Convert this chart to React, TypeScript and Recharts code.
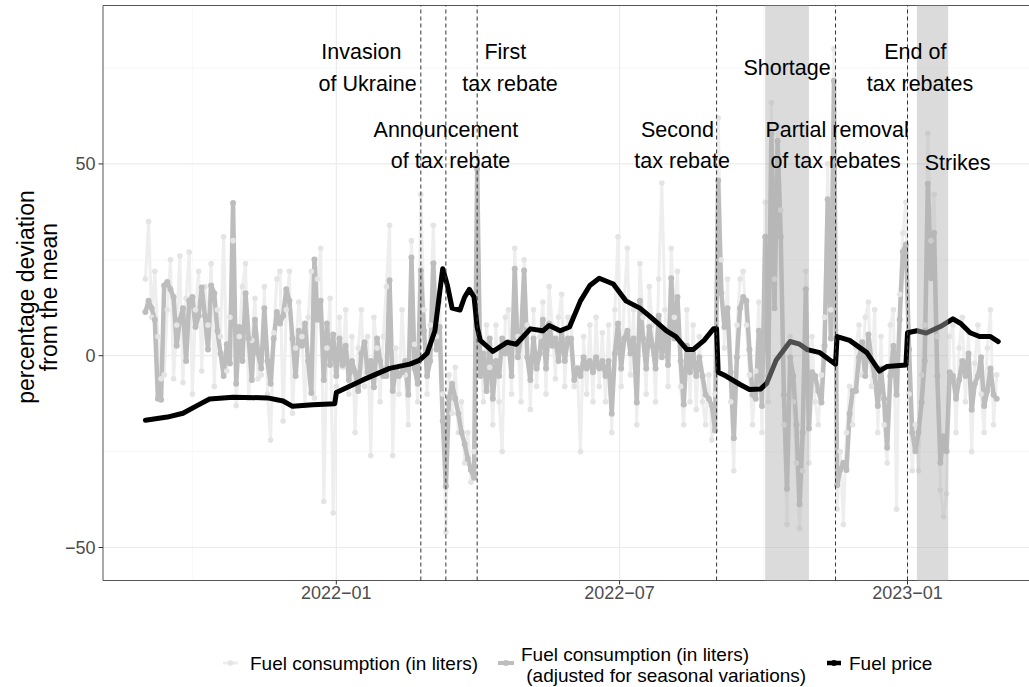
import React from "react";
import {
  LineChart,
  Line,
  XAxis,
  YAxis,
  CartesianGrid,
  ReferenceLine,
  ReferenceArea,
  ReferenceDot,
} from "recharts";

// ---------- data ----------
const seriesStart = "2021-09-01";
const stepDays = 2;

const adjustedValues = [
  11.4, 14.3, 12.4, 9.4, -11.2, -11.5, 18.3, 19.2, 17.3, 15.3,
  2.6, 9.4, 12.4, -1.4, 14.3, 15.3, 7.5, 10.4, 17.8, 10.4,
  1.6, 18.3, 16.3, 6.5, 0.6, -5.3, 3.0, -2.0, 39.8, -7.3,
  7.5, -1.4, 16.3, 4.5, -6.3, 9.4, 0.6, -3.3, 12.4, -1.4,
  -7.3, 4.5, 11.4, 8.4, 10.4, 17.3, 14.3, 4.5, -5.3, 6.5,
  2.6, 8.4, -1.4, -9.7, 25.1, 9.4, 14.3, -6.3, 8.4, -2.4, 5.5,
  -5.3, 4.5, -2.4, 2.6, -6.3, -1.4, -4.3, -9.2, 0.6, 3.5,
  -4.3, -1.4, -8.2, 4.5, -1.4, -5.3, -5.3, 19.7, -9.2, -3.3,
  -5.3, -4.3, -1.4, -10.2, 25.6, -3.3, -7.3, 22.2, 6.5, -5.3,
  -1.4, 24.1, 1.6, 7.5, -17.0, -34.0, -11.2, -7.3, -11.2, -15.1,
  -20.0, -23.0, -26.9, -29.8, -31.8, 48.7, -5.3, 0.6, -9.2, 4.5,
  -11.2, -1.4, -5.3, 4.5, 0.6, 3.5, -5.3, 22.7, -0.4, 4.5,
  22.2, -0.4, -6.3, 4.5, -3.3, 0.6, 9.4, -3.3, 8.4, 2.6,
  4.5, -1.4, 6.5, -1.4, 4.5,
  4.5, -6.3, -3.3, -5.3, -0.4, -3.3, -1.4, -4.3, -0.4, -3.3,
  -1.4, -5.3, -1.4, -15.1, 0.6, 8.4, -3.3, 4.5, 6.5, 0.6,
  4.5, -12.2, 14.3, 4.5, -3.3, 7.5, 2.6, -3.3, 10.4, -0.4,
  6.5, -2.4, 20.2, 4.5, 15.3, -1.4, -12.7, 2.6, -4.3, 0.6,
  -5.3, -0.4, -5.3, -10.2, -11.2, -13.0, -19.5, 45.7, 16.3, 7.5,
  12.4, -4.3, -21.5, -0.4, 12.4, 15.3, 14.3, 1.6, -10.2, -11.2,
  6.5, -13.1, 31.0, -5.3, 58.0, 12.4, 56.0, 31.0, -10.2, -34.7,
  -0.4, -5.3, -18.0, -38.7,
  -20.0, 17.3, -19.0, -4.3, -5.3, -9.2, -12.2, 2.6, 40.8, 4.5,
  71.7, -33.8, -29.8, -27.9, -29.8, -15.1, -9.2, -9.2, -0.4, 3.5,
  -5.3, 5.5, -1.4, -5.3, -13.1, -3.3, -11.2, -24.0, -5.3, 2.6,
  -10.2, 9.4, 27.1, 29.0, 1.6, -20.0, -24.9, -20.0, -12.2, -1.4,
  44.8, 20.2, 32.0, -5.3, -27.9, -21.0, -24.9, -4.3, -5.3, -11.2,
  -6.3, -1.4, -5.3, 0.6, -14.1, -7.3, -5.3, -0.4, -13.1, -9.2,
  -3.3, -10.2, -11.2,
];

const rawValues = [
  20, 35, 10, 22, 5, -6, -5, 12, 25, -6,
  8, 26, -7, 15, 27, -10, 12, 22, -4, 18,
  8, 24, -8, 12, 5, 31, -4, 10, 30, -13,
  5, 18, 24, -11, 4, 15, -6, -5, 18, -10,
  -22, 6, 20, 22, -17, 12, 22, -15, 2, 14,
  5, -13, 10, 22, -11, 20, 28, -38, 2, 15, -41,
  -8, 10, -3, 12, -10, 5, -20, 2, 12, -8,
  5, -26, 10, 2, -12, 5, 18, 34, -26, 2,
  -10, 12, -5, -18, 30, 3, -12, 42, 12, -10,
  8, 34, 5, 14, -10, -46, -5, -15, -3, -20,
  -12, -28, -20, -33, -25, 52, 5, -12, 8, -3,
  -18, 8, -12, -25, 10, 12, -10, 28, 5, -12,
  25, 8, -14, 12, -8, 5, 14, -10, 18, 8,
  -6, 10, 16, -8, 10,
  10, -8, -3, -25, 5, -10, 8, -12, 10, -8,
  6, -12, 8, -20, 12, 31, -8, 15, 28, -5,
  12, -18, 24, 10, -10, 18, 8, -12, 20, 45,
  12, -8, 28, 10, 22, -8, -18, 12, -12, 8,
  -14, 5, -12, -18, -5, -22, -10, 62, 25, 2,
  20, -12, -30, 8, 20, 22, 8, -5, -18, -4,
  14, -20, 40, -12, 66, 20, 60, 38, -18, -44,
  5, -12, -28, -45,
  -30, 22, -28, 5, -12, -18, -5, 10, 50, 12,
  80, -40, -25, -44, -20, -8, -18, 2, 8, -5,
  10, 14, -8, 12, -20, 5, -18, -28, 8, 12,
  -40, 16, 32, 40, -10, -30, -18, -30, -5, 8,
  58, 30, 42, 5, -35, -42, -36, 5, 8, -20,
  2, 10, -12, 6, -25, -2, 8, -10, -20, 2,
  12, -18, -5,
];

const priceDates = [
  "2021-09-01", "2021-09-15", "2021-09-25", "2021-10-04", "2021-10-12", "2021-10-27",
  "2021-11-18", "2021-11-28", "2021-12-04", "2021-12-17", "2021-12-31",
  "2022-01-01", "2022-01-18", "2022-02-04", "2022-02-17", "2022-02-23", "2022-02-28",
  "2022-03-05", "2022-03-08", "2022-03-10", "2022-03-13", "2022-03-16", "2022-03-21",
  "2022-03-24", "2022-03-27", "2022-03-30", "2022-04-01", "2022-04-03", "2022-04-11",
  "2022-04-20", "2022-04-26", "2022-05-05", "2022-05-13", "2022-05-17", "2022-05-24",
  "2022-05-30", "2022-06-06", "2022-06-12", "2022-06-18", "2022-06-27", "2022-07-05",
  "2022-07-14", "2022-07-20", "2022-07-31", "2022-08-06", "2022-08-13", "2022-08-17",
  "2022-08-24", "2022-08-30", "2022-09-01", "2022-09-02", "2022-09-07", "2022-09-16",
  "2022-09-22", "2022-09-29", "2022-10-03", "2022-10-09", "2022-10-18", "2022-10-24",
  "2022-10-29", "2022-11-06", "2022-11-16", "2022-11-17", "2022-11-25", "2022-12-06",
  "2022-12-14", "2022-12-19", "2022-12-31", "2023-01-01", "2023-01-07", "2023-01-13",
  "2023-01-22", "2023-01-30", "2023-02-04", "2023-02-10", "2023-02-16", "2023-02-23",
  "2023-02-28",
];
const priceValues = [
  -16.8, -16.0, -15.0, -13.0, -11.3, -10.8,
  -11.0, -11.8, -13.2, -12.8, -12.5,
  -9.6, -6.3, -3.3, -2.2, -1.2, 0.6,
  6.5, 16.3, 22.7, 18.3, 12.4, 11.9,
  15.3, 17.3, 15.3, 7.5, 4.0, 1.1,
  3.5, 3.0, 7.0, 6.5, 7.9, 6.5,
  7.5, 14.3, 18.3, 20.2, 18.7, 14.3,
  12.4, 10.4, 6.5, 5.0, 1.6, 1.6,
  4.0, 7.0, 7.0, -4.3, -5.3, -7.5,
  -8.8, -8.7, -7.2, -1.2, 3.7, 3.0,
  1.6, 0.8, -2.2, 5.0, 4.0, 0.8,
  -4.0, -2.8, -2.4, 6.0, 6.5, 5.9,
  7.6, 9.6, 8.4, 6.0, 5.0, 5.0,
  3.7,
];

const xTickDates = ["2022-01-01", "2022-07-01", "2023-01-01"];
const xTickLabels = ["2022\u221201", "2022\u221207", "2023\u221201"];
const xMinorDates = ["2021-10-01", "2022-04-01", "2022-10-01"];
const yTickValues = [-50, 0, 50];
const yTickLabels = ["\u221250", "0", "50"];
const yMinorValues = [-25, 25, 75];

const eventDates = ["2022-02-24", "2022-03-12", "2022-04-01", "2022-09-01", "2022-11-16", "2023-01-01"];
const periodStarts = ["2022-10-02", "2023-01-07"];
const periodEnds = ["2022-10-30", "2023-01-27"];

const annotationTexts = [
  "Invasion", "of Ukraine", "First", "tax rebate", "Announcement", "of tax rebate",
  "Second", "tax rebate", "Shortage", "Partial removal", "of tax rebates",
  "End of", "tax rebates", "Strikes",
];
const annotationDates = [
  "2022-01-17", "2022-01-21", "2022-04-19", "2022-04-22", "2022-03-12", "2022-03-15",
  "2022-08-07", "2022-08-10", "2022-10-16", "2022-11-17", "2022-11-16",
  "2023-01-06", "2023-01-09", "2023-02-02",
];
const annotationYs = [
  79.2, 70.8, 79.2, 70.8, 58.9, 50.8,
  58.9, 50.8, 75.0, 58.9, 50.8,
  79.2, 70.8, 50.3,
];

const legendLabels = [
  ["Fuel consumption (in liters)"],
  ["Fuel consumption (in liters)", " (adjusted for seasonal variations)"],
  ["Fuel price"],
];

// ---------- helpers ----------
const BASE = Date.UTC(2022, 0, 1);
const dayOf = (s: string) => {
  const [y, m, d] = s.split("-").map(Number);
  return (Date.UTC(y, m - 1, d) - BASE) / 86400000;
};

const startDay = dayOf(seriesStart);
const adjData = adjustedValues.map((v, i) => ({ d: startDay + i * stepDays, v }));
const rawData = rawValues.map((v, i) => ({ d: startDay + i * stepDays, v }));
const priceData = priceDates.map((s, i) => ({ d: dayOf(s), v: priceValues[i] }));

const xTicks = xTickDates.map(dayOf);
const xMinor = xMinorDates.map(dayOf);

const FONT = "'Liberation Sans', Arial, Helvetica, sans-serif";
const RAW_COL = "#eeeeee";
const RAW_DOT = "#e4e4e4";
const ADJ_COL = "#bdbdbd";

export default function App() {
  return (
    <div
      style={{
        position: "absolute",
        left: 0,
        top: 0,
        width: 1029,
        height: 687,
        overflow: "hidden",
        background: "#ffffff",
        fontFamily: FONT,
      }}
    >
      <LineChart
        width={1060}
        height={687}
        margin={{ top: 5.5, right: 19, bottom: 76.5, left: 0 }}
      >
        <CartesianGrid
          stroke="#f3f3f3"
          strokeWidth={0.7}
          horizontalValues={yMinorValues}
          verticalValues={xMinor}
        />
        <CartesianGrid
          stroke="#ebebeb"
          strokeWidth={1.2}
          horizontalValues={yTickValues}
          verticalValues={xTicks}
        />
        <XAxis
          dataKey="d"
          type="number"
          domain={[-149.1, 450.3]}
          allowDataOverflow
          ticks={xTicks}
          tickFormatter={(v: number) => xTickLabels[xTicks.indexOf(v)] ?? ""}
          height={30}
          tickSize={4}
          tickMargin={2}
          stroke="#555555"
          tick={{ fill: "#4d4d4d", fontSize: 18, fontFamily: FONT }}
          axisLine={{ stroke: "#555555", strokeWidth: 1 }}
          tickLine={{ stroke: "#333333" }}
        />
        <YAxis
          type="number"
          domain={[-58.6, 91.3]}
          allowDataOverflow
          ticks={yTickValues}
          tickFormatter={(v: number) => yTickLabels[yTickValues.indexOf(v)] ?? ""}
          width={103}
          tickSize={4.5}
          tickMargin={3}
          tick={{ fill: "#4d4d4d", fontSize: 18, fontFamily: FONT }}
          axisLine={{ stroke: "#555555", strokeWidth: 1 }}
          tickLine={{ stroke: "#333333" }}
        />
        <ReferenceLine y={91.3} stroke="#555555" strokeWidth={1} ifOverflow="visible" />

        <Line
          data={rawData}
          dataKey="v"
          type="linear"
          stroke={RAW_COL}
          strokeWidth={3}
          dot={{ r: 2.8, fill: RAW_DOT, stroke: "none", strokeWidth: 0 }}
          isAnimationActive={false}
          zIndex={400}
        />
        <Line
          data={adjData}
          dataKey="v"
          type="linear"
          stroke={ADJ_COL}
          strokeWidth={4.5}
          strokeLinejoin="round"
          dot={{ r: 3, fill: ADJ_COL, stroke: "none", strokeWidth: 0 }}
          isAnimationActive={false}
          zIndex={450}
        />
        <Line
          data={priceData}
          dataKey="v"
          type="linear"
          stroke="#000000"
          strokeWidth={5}
          strokeLinejoin="round"
          strokeLinecap="round"
          dot={false}
          isAnimationActive={false}
          zIndex={650}
        />

        {periodStarts.map((s, i) => (
          <ReferenceArea
            key={"pa" + i}
            x1={dayOf(s)}
            x2={dayOf(periodEnds[i])}
            y1={-58.6}
            y2={91.3}
            fill="#b0b0b0"
            fillOpacity={0.45}
            stroke="none"
            ifOverflow="visible"
            zIndex={700}
          />
        ))}

        {eventDates.map((s, i) => (
          <ReferenceLine
            key={"ev" + i}
            x={dayOf(s)}
            stroke="#333333"
            strokeWidth={1}
            strokeDasharray="4 3"
            zIndex={800}
          />
        ))}

        {annotationTexts.map((t, i) => (
          <ReferenceDot
            key={"an" + i}
            x={dayOf(annotationDates[i])}
            y={annotationYs[i]}
            r={0}
            ifOverflow="visible"
            zIndex={900}
            shape={(p: any) => (
              <text
                x={p.cx}
                y={p.cy}
                textAnchor="middle"
                dominantBaseline="central"
                fontSize={21.5}
                fontFamily={FONT}
                fill="#000000"
              >
                {t}
              </text>
            )}
          />
        ))}
      </LineChart>

      <svg
        width={1029}
        height={687}
        style={{ position: "absolute", left: 0, top: 0, pointerEvents: "none" }}
      >
        <text
          transform="translate(26,297) rotate(-90)"
          textAnchor="middle"
          dominantBaseline="central"
          fontSize={23}
          fontFamily={FONT}
          fill="#000"
        >
          percentage deviation
        </text>
        <text
          transform="translate(49,297) rotate(-90)"
          textAnchor="middle"
          dominantBaseline="central"
          fontSize={23}
          fontFamily={FONT}
          fill="#000"
        >
          from the mean
        </text>

        {/* legend */}
        <line x1={223} y1={663} x2={238} y2={663} stroke={RAW_COL} strokeWidth={3} />
        <circle cx={230.5} cy={663} r={2.8} fill={RAW_DOT} />
        <text x={250} y={663} dominantBaseline="central" fontSize={19} fontFamily={FONT} fill="#000">
          {legendLabels[0][0]}
        </text>

        <line x1={498} y1={663} x2={514} y2={663} stroke={ADJ_COL} strokeWidth={4} />
        <circle cx={506} cy={663} r={3} fill={ADJ_COL} />
        <text x={521} y={654} dominantBaseline="central" fontSize={19} fontFamily={FONT} fill="#000">
          {legendLabels[1][0]}
        </text>
        <text x={521} y={675} dominantBaseline="central" fontSize={19} fontFamily={FONT} fill="#000" style={{ whiteSpace: "pre" }}>
          {legendLabels[1][1]}
        </text>

        <line x1={827} y1={663} x2={841} y2={663} stroke="#000" strokeWidth={4.5} />
        <circle cx={834} cy={663} r={3} fill="#000" />
        <text x={849} y={663} dominantBaseline="central" fontSize={19} fontFamily={FONT} fill="#000">
          {legendLabels[2][0]}
        </text>
      </svg>
    </div>
  );
}
